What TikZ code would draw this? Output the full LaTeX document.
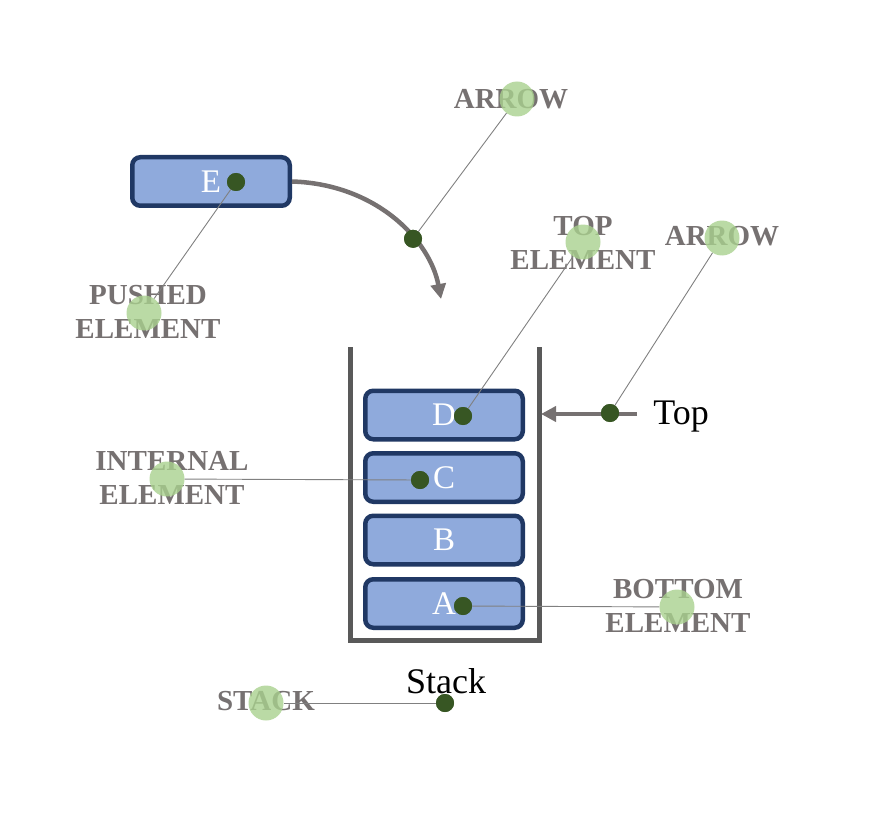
\documentclass[tikz,border=0pt]{standalone}
\usepackage{fontspec}
\setmainfont{Liberation Serif}
\usetikzlibrary{arrows.meta}
\definecolor{boxfill}{HTML}{8FAADC}
\definecolor{boxline}{HTML}{203864}
\definecolor{dotgreen}{HTML}{375623}
\definecolor{lightgreen}{HTML}{A9D18E}
\definecolor{labelgray}{HTML}{767171}
\definecolor{wallgray}{HTML}{595959}
\definecolor{arrowgray}{HTML}{767171}
\definecolor{thingray}{HTML}{808080}
\begin{document}
\begin{tikzpicture}[x=1pt,y=-1pt,
  elem/.style={draw=boxline, line width=4.5pt, fill=boxfill, rounded corners=8pt,
    minimum width=157.5pt, minimum height=48.5pt, inner sep=0pt, text=white,
    font=\fontsize{33}{33}\selectfont},
  wall/.style={draw=wallgray, line width=5pt},
  bigarrow/.style={draw=arrowgray, line width=4.5pt, -{Triangle[length=15pt,width=15pt]}},
  dotmark/.style={circle, fill=dotgreen, inner sep=0pt, minimum size=18pt},
  halo/.style={circle, fill=lightgreen, fill opacity=0.8, inner sep=0pt, minimum size=35pt},
  lbl/.style={text=labelgray, align=center, font=\bfseries\fontsize{29}{34}\selectfont, inner sep=0pt},
  plain/.style={text=black, font=\fontsize{36}{36}\selectfont, inner sep=0pt},
  pointer/.style={draw=thingray, line width=0.9pt}
]
\useasboundingbox (0,0) rectangle (875,821);

% stack walls
\coordinate (wTL) at (350,347);
\coordinate (wBL) at (350,640);
\coordinate (wBR) at (539,640);
\coordinate (wTR) at (539,347);
\draw[wall] (wTL) -- (wBL) -- (wBR) -- (wTR);

% elements
\node[elem] (nE) at (211,181.5) {E};
\node[elem] (nD) at (444,415) {D};
\node[elem] (nC) at (444,477.5) {C};
\node[elem] (nB) at (444,540) {B};
\node[elem] (nA) at (444,603.5) {A};

% curved push arrow
\coordinate (curveEnd) at (441,299);
\draw[bigarrow] (nE.east) .. controls (376,184) and (430,240) .. (curveEnd)
  coordinate[pos=0.64] (arrowPt);

% top arrow
\coordinate (topStart) at (637,414);
\coordinate (topEnd) at (541,414);
\draw[bigarrow] (topStart) -- (topEnd);

% plain texts
\node[plain, anchor=base] (tTop) at (681,424) {Top};
\node[plain, anchor=base] (tStack) at (446,693) {Stack};

% labels
\node[lbl] (lPushed) at (148,312) {PUSHED\\ELEMENT};
\node[lbl] (lArrow1) at (511,99) {ARROW};
\node[lbl] (lTop) at (583,243) {TOP\\ELEMENT};
\node[lbl] (lArrow2) at (722,236) {ARROW};
\node[lbl] (lInternal) at (172,478) {INTERNAL\\ELEMENT};
\node[lbl] (lBottom) at (678,606) {BOTTOM\\ELEMENT};
\node[lbl] (lStack) at (266,701) {STACK};

% dots
\node[dotmark] (dE) at (236,182) {};
\node[dotmark] (dArrow1) at (arrowPt) {};
\node[dotmark] (dD) at (463,416) {};
\node[dotmark] (dArrow2) at (610,413) {};
\node[dotmark] (dC) at (420,480) {};
\node[dotmark] (dA) at (463,606) {};
\node[dotmark] (dStack) at (445,703) {};

% halos
\node[halo] (hPushed) at (144,313) {};
\node[halo] (hArrow1) at (517,99) {};
\node[halo] (hTop) at (583,242) {};
\node[halo] (hArrow2) at (722,238) {};
\node[halo] (hInternal) at (167,479) {};
\node[halo] (hBottom) at (677,607) {};
\node[halo] (hStack) at (266,703) {};

% pointers
\draw[pointer] (dE.center) -- (hPushed);
\draw[pointer] (dArrow1.center) -- (hArrow1);
\draw[pointer] (dD.center) -- (hTop);
\draw[pointer] (dArrow2.center) -- (hArrow2);
\draw[pointer] (dC.center) -- (hInternal);
\draw[pointer] (dA.center) -- (hBottom);
\draw[pointer] (dStack.center) -- (hStack);

% redraw dots on top of pointers
\foreach \d in {dE,dArrow1,dD,dArrow2,dC,dA,dStack}
  \fill[dotgreen] (\d.center) circle (9pt);
\end{tikzpicture}
\end{document}
